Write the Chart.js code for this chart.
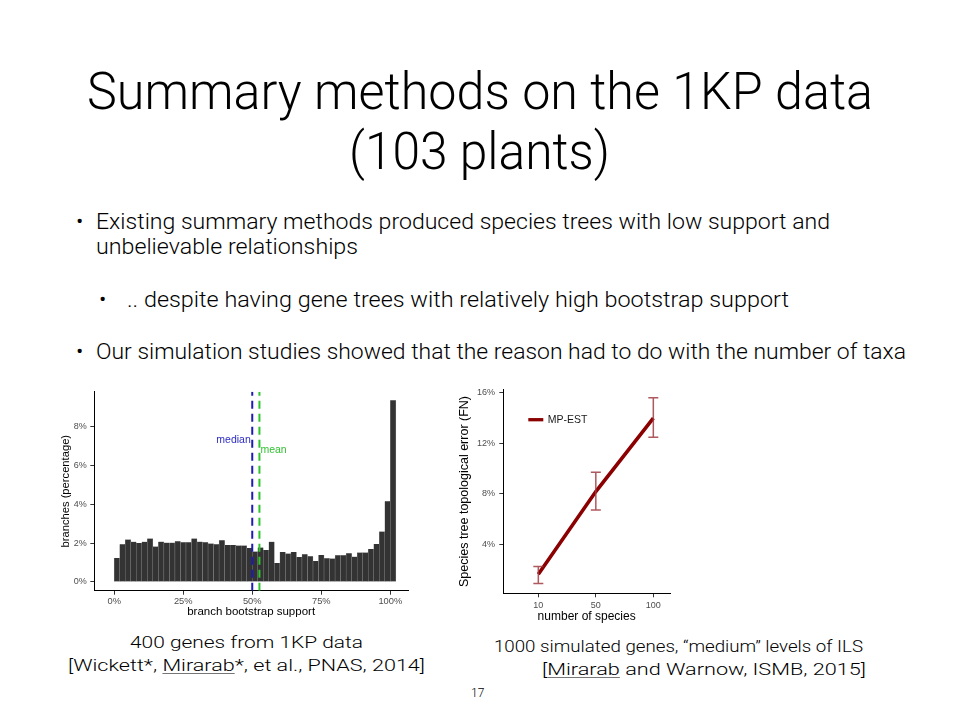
<!DOCTYPE html>
<html>
<head>
<meta charset="utf-8">
<script src="https://cdn.jsdelivr.net/npm/chart.js@4.4.0/dist/chart.umd.min.js"></script>
<style>
  body { margin: 0; background: #fff; }
  #slide { position: relative; width: 960px; height: 720px; overflow: hidden; font-family: Roboto, "Liberation Sans", sans-serif; font-weight: 300; color: #000; }
  .t { position: absolute; white-space: nowrap; line-height: 1; transform-origin: 0 0; }
  canvas { position: absolute; }
  u { text-decoration-color: #777; text-decoration-thickness: 1px; text-underline-offset: 2px; }
</style>
</head>
<body>
<div id="slide">
  <div class="t" data-w="786" style="left:87px; top:65.9px; font-size:51.6px;">Summary methods on the 1KP data</div>
  <div class="t" data-w="261" style="left:349px; top:125.9px; font-size:51.6px;">(103 plants)</div>

  <div class="t" style="left:76px; top:210.4px; font-size:22.5px;">&bull;</div>
  <div class="t" data-w="734" style="left:96px; top:210.4px; font-size:22.5px;">Existing summary methods produced species trees with low support and</div>
  <div class="t" data-w="262" style="left:96px; top:235.4px; font-size:22.5px;">unbelievable relationships</div>
  <div class="t" style="left:99px; top:288.4px; font-size:22.5px;">&bull;</div>
  <div class="t" data-w="662" style="left:127px; top:288.4px; font-size:22.5px;">.. despite having gene trees with relatively high bootstrap support</div>
  <div class="t" style="left:76px; top:340.4px; font-size:22.5px;">&bull;</div>
  <div class="t" data-w="810" style="left:96px; top:340.4px; font-size:22.5px;">Our simulation studies showed that the reason had to do with the number of taxa</div>

  <canvas id="histChart" width="370" height="245" style="left:50px; top:380px;"></canvas>
  <canvas id="lineChart" width="230" height="245" style="left:450px; top:380px;"></canvas>

  <div class="t" data-w="233" style="left:130px; top:633.9px; font-size:16.8px;">400 genes from 1KP data</div>
  <div class="t" data-w="357" style="left:68px; top:657.2px; font-size:16.8px;">[Wickett*, <u>Mirarab</u>*, et al., PNAS, 2014]</div>
  <div class="t" data-w="369" style="left:494px; top:637.9px; font-size:16.8px;">1000 simulated genes, &ldquo;medium&rdquo; levels of ILS</div>
  <div class="t" data-w="324" style="left:542px; top:661.2px; font-size:16.8px;">[<u>Mirarab</u> and Warnow, ISMB, 2015]</div>
  <div class="t" style="left:471px; top:686.9px; font-size:12px;">17</div>
</div>

<script>
// histogram of branch support (400 genes, 1KP)
var binLeft = [0, 2, 4, 6, 8, 10, 12, 14, 16, 18, 20, 22, 24, 26, 28, 30, 32, 34, 36, 38,
  40, 42, 44, 46, 48, 50, 52, 54, 56, 58, 60, 62, 64, 66, 68, 70, 72, 74, 76, 78,
  80, 82, 84, 86, 88, 90, 92, 94, 96, 98, 100];
var branchPct = [1.23, 1.94, 2.18, 2.06, 2.00, 2.06, 2.23, 1.82, 2.07, 2.02,
  2.02, 2.09, 2.04, 2.04, 2.23, 2.07, 2.04, 1.97, 1.94, 2.14,
  1.90, 1.90, 1.87, 1.87, 1.75, 1.56, 1.77, 1.64, 2.06, 0.98,
  1.54, 1.46, 1.54, 1.28, 1.42, 1.32, 1.08, 1.39, 1.22, 1.20,
  1.37, 1.37, 1.47, 1.30, 1.51, 1.51, 1.70, 1.95, 2.59, 4.15, 9.34];
var binWidth = 2;
var medianSupport = 50;
var meanSupport = 52.6;
var histXTicks = [0, 25, 50, 75, 100];
var histYTicks = [0, 2, 4, 6, 8];

// MP-EST simulation error
var speciesCounts = [10, 50, 100];
var mpestError = [1.6, 8.17, 14.0];
var mpestLow = [0.87, 6.71, 12.48];
var mpestHigh = [2.22, 9.71, 15.62];
var lineYTicks = [4, 8, 12, 16];

// stretch each text line to the width it has on the slide
document.querySelectorAll('.t[data-w]').forEach(function (el) {
  var w = el.getBoundingClientRect().width;
  el.style.transform = 'scaleX(' + (el.dataset.w / w) + ')';
});

var tickColor = '#4d4d4d';

function fixTicks(values) {
  return function (scale) {
    scale.ticks = values.map(function (v) { return { value: v }; });
  };
}

// ---------- left chart ----------
var hc = document.getElementById('histChart');
var histData = binLeft.map(function (b, i) { return { x: b + binWidth / 2, y: branchPct[i] }; });

var histLabels = {
  id: 'histLabels',
  afterDatasetsDraw: function (chart) {
    var c = chart.ctx, xs = chart.scales.x, ys = chart.scales.y;
    c.save();
    c.font = '10.5px "Liberation Sans"';
    c.textBaseline = 'middle';
    c.fillStyle = '#2b2bc4';
    c.textAlign = 'right';
    c.fillText('median', xs.getPixelForValue(medianSupport) - 1.5, ys.getPixelForValue(7.29));
    c.fillStyle = '#33c233';
    c.textAlign = 'left';
    c.fillText('mean', xs.getPixelForValue(meanSupport) + 1, ys.getPixelForValue(6.8));
    c.restore();
  }
};

new Chart(hc, {
  type: 'bar',
  data: {
    datasets: [{
      type: 'bar',
      data: histData,
      backgroundColor: '#333333',
      borderColor: '#8a8a8a',
      borderWidth: { left: 0.5, right: 0.5, top: 0, bottom: 0 },
      borderSkipped: false,
      categoryPercentage: 1,
      barPercentage: 1,
      order: 2
    }, {
      type: 'line',
      data: [{ x: medianSupport, y: -0.45 }, { x: medianSupport, y: 9.78 }],
      borderColor: '#1c1cb0',
      borderWidth: 2,
      borderDash: [8, 5],
      pointRadius: 0,
      order: 1
    }, {
      type: 'line',
      data: [{ x: meanSupport, y: -0.45 }, { x: meanSupport, y: 9.78 }],
      borderColor: '#2ec42e',
      borderWidth: 2,
      borderDash: [8, 5],
      pointRadius: 0,
      order: 0
    }]
  },
  options: {
    responsive: false,
    animation: false,
    devicePixelRatio: 1,
    layout: { padding: { top: 11.7, right: 12, left: 0, bottom: 0 } },
    plugins: { legend: { display: false }, tooltip: { enabled: false } },
    scales: {
      x: {
        type: 'linear',
        offset: false,
        min: -7.2,
        max: 106.4,
        afterBuildTicks: fixTicks(histXTicks),
        afterFit: function (s) { s.height = 245 - 210.7; },
        grid: { drawOnChartArea: false, offset: false, tickLength: 4, color: '#333' },
        border: { display: true, color: '#000', width: 1 },
        ticks: { font: { family: 'Liberation Sans', size: 9.3 }, color: tickColor, padding: 1.5, maxRotation: 0,
          callback: function (v) { return v + '%'; } },
        title: { display: true, text: 'branch bootstrap support', font: { family: 'Liberation Sans', size: 11.5 }, color: '#000',
          padding: { top: 0, bottom: 5.8 } }
      },
      y: {
        min: -0.45,
        max: 9.78,
        afterBuildTicks: fixTicks(histYTicks),
        afterFit: function (s) { s.width = 44.3; },
        grid: { drawOnChartArea: false, tickLength: 4, color: '#333' },
        border: { display: true, color: '#000', width: 1 },
        ticks: { font: { family: 'Liberation Sans', size: 9 }, color: tickColor, padding: 3.5,
          callback: function (v) { return v + '%'; } },
        title: { display: true, text: 'branches (percentage)', font: { family: 'Liberation Sans', size: 11.2 }, color: '#000',
          padding: { top: 9.3, bottom: 0 } }
      }
    }
  },
  plugins: [histLabels]
});

// ---------- right chart ----------
var lc = document.getElementById('lineChart');

var errorBars = {
  id: 'errorBars',
  afterDatasetsDraw: function (chart) {
    var c = chart.ctx, xs = chart.scales.x, ys = chart.scales.y;
    c.save();
    c.strokeStyle = 'rgba(160, 60, 66, 0.85)';
    c.lineWidth = 1.5;
    speciesCounts.forEach(function (n, i) {
      var px = xs.getPixelForValue(i);
      var lo = ys.getPixelForValue(mpestLow[i]);
      var hi = ys.getPixelForValue(mpestHigh[i]);
      c.beginPath();
      c.moveTo(px, lo); c.lineTo(px, hi);
      c.moveTo(px - 5, lo); c.lineTo(px + 5, lo);
      c.moveTo(px - 5, hi); c.lineTo(px + 5, hi);
      c.stroke();
    });
    // legend
    var a = chart.chartArea;
    c.strokeStyle = '#8b0000';
    c.lineWidth = 3.3;
    c.beginPath();
    c.moveTo(a.left + 25, a.top + 30);
    c.lineTo(a.left + 40, a.top + 30);
    c.stroke();
    c.fillStyle = '#1a1a1a';
    c.font = '10.5px "Liberation Sans"';
    c.textBaseline = 'middle';
    c.fillText('MP-EST', a.left + 44.5, a.top + 30);
    c.restore();
  }
};

new Chart(lc, {
  type: 'line',
  data: {
    datasets: [{
      label: 'MP-EST',
      data: mpestError.map(function (v, i) { return { x: i, y: v }; }),
      borderColor: '#8b0000',
      borderWidth: 3.6,
      borderCapStyle: 'butt',
      pointRadius: 0,
      tension: 0
    }]
  },
  options: {
    responsive: false,
    animation: false,
    devicePixelRatio: 1,
    layout: { padding: { top: 6.7, right: 10, left: 0, bottom: 0 } },
    plugins: { legend: { display: false }, tooltip: { enabled: false } },
    scales: {
      x: {
        type: 'linear',
        min: -0.609,
        max: 2.29,
        afterBuildTicks: fixTicks([0, 1, 2]),
        afterFit: function (s) { s.height = 245 - 213.3; },
        grid: { drawOnChartArea: false, tickLength: 4, color: '#333' },
        border: { display: true, color: '#000', width: 1 },
        ticks: { font: { family: 'Liberation Sans', size: 9 }, color: tickColor, padding: 3, maxRotation: 0,
          callback: function (v) { return speciesCounts[v]; } },
        title: { display: true, text: 'number of species', font: { family: 'Liberation Sans', size: 12 }, color: '#000',
          padding: { top: 0, bottom: 0.8 } }
      },
      y: {
        min: 0.09,
        max: 16.26,
        afterBuildTicks: fixTicks(lineYTicks),
        afterFit: function (s) { s.width = 53.3; },
        grid: { drawOnChartArea: false, tickLength: 4, color: '#333' },
        border: { display: true, color: '#000', width: 1 },
        ticks: { font: { family: 'Liberation Sans', size: 9 }, color: tickColor, padding: 4.3,
          callback: function (v) { return v + '%'; } },
        title: { display: true, text: 'Species tree topological error (FN)', font: { family: 'Liberation Sans', size: 12.5 }, color: '#000',
          padding: { top: 7.5, bottom: 0 } }
      }
    }
  },
  plugins: [errorBars]
});
</script>
</body>
</html>
